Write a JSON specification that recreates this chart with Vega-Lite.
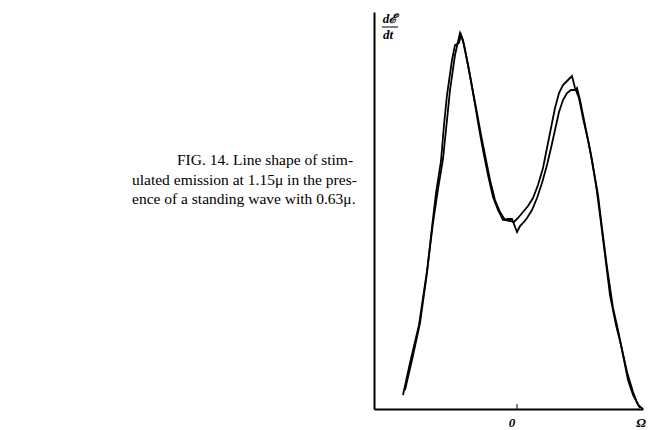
{
  "$schema": "https://vega.github.io/schema/vega-lite/v6.json",
  "autosize": "none",
  "width": 269,
  "height": 397,
  "padding": {"left": 374, "top": 12, "right": 6, "bottom": 21},
  "background": "white",
  "config": {"view": {"stroke": null}},
  "datasets": {
    "curves": [
      {"s":"A","x":-1.14,"y":0.14},{"s":"A","x":-1.07,"y":0.46},{"s":"A","x":-0.98,"y":0.84},{"s":"A","x":-0.90,"y":1.38},{"s":"A","x":-0.84,"y":1.86},{"s":"A","x":-0.79,"y":2.20},{"s":"A","x":-0.74,"y":2.50},{"s":"A","x":-0.70,"y":2.89},{"s":"A","x":-0.67,"y":3.19},{"s":"A","x":-0.62,"y":3.54},{"s":"A","x":-0.57,"y":3.76},{"s":"A","x":-0.54,"y":3.69},{"s":"A","x":-0.49,"y":3.44},{"s":"A","x":-0.45,"y":3.22},{"s":"A","x":-0.41,"y":2.99},{"s":"A","x":-0.38,"y":2.81},{"s":"A","x":-0.34,"y":2.59},{"s":"A","x":-0.29,"y":2.34},{"s":"A","x":-0.24,"y":2.12},{"s":"A","x":-0.19,"y":1.99},{"s":"A","x":-0.14,"y":1.89},{"s":"A","x":-0.09,"y":1.90},{"s":"A","x":-0.05,"y":1.90},{"s":"A","x":0.00,"y":1.77},{"s":"A","x":0.03,"y":1.83},{"s":"A","x":0.07,"y":1.87},{"s":"A","x":0.10,"y":1.91},{"s":"A","x":0.15,"y":1.99},{"s":"A","x":0.20,"y":2.11},{"s":"A","x":0.25,"y":2.26},{"s":"A","x":0.30,"y":2.44},{"s":"A","x":0.34,"y":2.61},{"s":"A","x":0.38,"y":2.79},{"s":"A","x":0.42,"y":2.97},{"s":"A","x":0.46,"y":3.09},{"s":"A","x":0.50,"y":3.16},{"s":"A","x":0.54,"y":3.19},{"s":"A","x":0.58,"y":3.19},{"s":"A","x":0.60,"y":3.21},{"s":"A","x":0.63,"y":3.09},{"s":"A","x":0.66,"y":2.94},{"s":"A","x":0.70,"y":2.74},{"s":"A","x":0.73,"y":2.59},{"s":"A","x":0.76,"y":2.42},{"s":"A","x":0.81,"y":2.14},{"s":"A","x":0.85,"y":1.81},{"s":"A","x":0.90,"y":1.42},{"s":"A","x":0.96,"y":1.01},{"s":"A","x":1.01,"y":0.79},{"s":"A","x":1.05,"y":0.59},{"s":"A","x":1.11,"y":0.29},{"s":"A","x":1.16,"y":0.14},{"s":"A","x":1.23,"y":0.01},
      {"s":"B","x":-1.12,"y":0.19},{"s":"B","x":-1.05,"y":0.49},{"s":"B","x":-0.97,"y":0.86},{"s":"B","x":-0.90,"y":1.36},{"s":"B","x":-0.85,"y":1.82},{"s":"B","x":-0.81,"y":2.16},{"s":"B","x":-0.76,"y":2.48},{"s":"B","x":-0.73,"y":2.84},{"s":"B","x":-0.70,"y":3.14},{"s":"B","x":-0.65,"y":3.49},{"s":"B","x":-0.62,"y":3.64},{"s":"B","x":-0.58,"y":3.66},{"s":"B","x":-0.56,"y":3.74},{"s":"B","x":-0.53,"y":3.64},{"s":"B","x":-0.48,"y":3.39},{"s":"B","x":-0.44,"y":3.17},{"s":"B","x":-0.40,"y":2.96},{"s":"B","x":-0.36,"y":2.74},{"s":"B","x":-0.32,"y":2.54},{"s":"B","x":-0.27,"y":2.29},{"s":"B","x":-0.22,"y":2.09},{"s":"B","x":-0.17,"y":1.97},{"s":"B","x":-0.12,"y":1.89},{"s":"B","x":-0.07,"y":1.88},{"s":"B","x":-0.03,"y":1.87},{"s":"B","x":0.01,"y":1.91},{"s":"B","x":0.06,"y":1.97},{"s":"B","x":0.11,"y":2.03},{"s":"B","x":0.16,"y":2.11},{"s":"B","x":0.21,"y":2.24},{"s":"B","x":0.26,"y":2.41},{"s":"B","x":0.30,"y":2.61},{"s":"B","x":0.34,"y":2.81},{"s":"B","x":0.38,"y":3.01},{"s":"B","x":0.42,"y":3.16},{"s":"B","x":0.46,"y":3.24},{"s":"B","x":0.51,"y":3.29},{"s":"B","x":0.55,"y":3.33},{"s":"B","x":0.58,"y":3.21},{"s":"B","x":0.62,"y":3.11},{"s":"B","x":0.66,"y":2.91},{"s":"B","x":0.71,"y":2.69},{"s":"B","x":0.75,"y":2.49},{"s":"B","x":0.79,"y":2.24},{"s":"B","x":0.83,"y":1.94},{"s":"B","x":0.88,"y":1.54},{"s":"B","x":0.93,"y":1.14},{"s":"B","x":0.99,"y":0.84},{"s":"B","x":1.04,"y":0.64},{"s":"B","x":1.10,"y":0.37},{"s":"B","x":1.16,"y":0.17},{"s":"B","x":1.21,"y":0.04},{"s":"B","x":1.26,"y":0.00}
    ]
  },
  "layer": [
    {
      "data": {"name": "curves"},
      "mark": {"type": "line", "color": "black", "strokeWidth": 1.8, "interpolate": "linear"},
      "encoding": {
        "x": {"field": "x", "type": "quantitative", "scale": {"domain": [-1.43, 1.26], "nice": false, "zero": false},
              "axis": {"title": null, "labels": false, "ticks": false, "grid": false, "domainColor": "black", "domainWidth": 2}},
        "y": {"field": "y", "type": "quantitative", "scale": {"domain": [0, 3.97], "nice": false, "zero": false},
              "axis": {"title": null, "labels": false, "ticks": false, "grid": false, "domainColor": "black", "domainWidth": 2}},
        "detail": {"field": "s"}
      }
    },
    {
      "data": {"values": [{"a": 0}]},
      "mark": {"type": "rule", "color": "black", "strokeWidth": 1},
      "encoding": {
        "x": {"datum": 0, "type": "quantitative"},
        "y": {"datum": 0, "type": "quantitative"},
        "y2": {"datum": 0.05}
      }
    },
    {
      "data": {"values": [{"a": 0}]},
      "mark": {"type": "rule", "color": "black", "strokeWidth": 1},
      "encoding": {
        "x": {"datum": -1.35, "type": "quantitative"},
        "x2": {"datum": -1.19},
        "y": {"datum": 3.82, "type": "quantitative"}
      }
    },
    {
      "data": {"values": [{"t": "dℰ", "x": -1.27, "y": 3.90}, {"t": "dt", "x": -1.29, "y": 3.74}]},
      "mark": {"type": "text", "font": "Liberation Serif", "fontSize": 13, "fontStyle": "italic", "fontWeight": "bold", "align": "center", "baseline": "middle", "color": "black"},
      "encoding": {
        "x": {"field": "x", "type": "quantitative"},
        "y": {"field": "y", "type": "quantitative"},
        "text": {"field": "t"}
      }
    },
    {
      "data": {"values": [{"t": "0", "x": -0.05, "y": -0.14}, {"t": "Ω", "x": 1.24, "y": -0.14}]},
      "mark": {"type": "text", "font": "Liberation Serif", "fontSize": 13, "fontStyle": "italic", "fontWeight": "bold", "align": "center", "baseline": "middle", "color": "black"},
      "encoding": {
        "x": {"field": "x", "type": "quantitative"},
        "y": {"field": "y", "type": "quantitative"},
        "text": {"field": "t"}
      }
    },
    {
      "data": {"values": [
        {"t": "FIG. 14.  Line shape of stim-", "x": -3.40, "y": 2.49},
        {"t": "ulated emission at 1.15μ in the pres-", "x": -3.85, "y": 2.29},
        {"t": "ence of a standing wave with 0.63μ.", "x": -3.85, "y": 2.10}
      ]},
      "mark": {"type": "text", "font": "Liberation Serif", "fontSize": 15.5, "align": "left", "baseline": "middle", "color": "black"},
      "encoding": {
        "x": {"field": "x", "type": "quantitative"},
        "y": {"field": "y", "type": "quantitative"},
        "text": {"field": "t"}
      }
    }
  ]
}
